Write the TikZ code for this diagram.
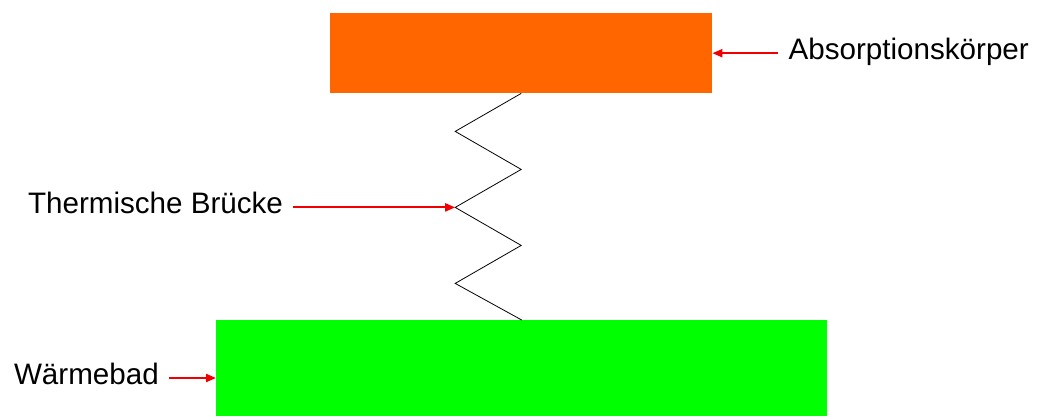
\documentclass[tikz,border=0pt]{standalone}
\usepackage{fontspec}
\setmainfont{Liberation Sans}
\usepackage{xcolor}
\usetikzlibrary{arrows.meta,positioning}
\definecolor{absorberorange}{HTML}{FF6600}
\definecolor{bathgreen}{HTML}{00FF00}
\definecolor{pointerred}{HTML}{F00000}

\begin{document}
\begin{tikzpicture}[x=1pt,y=-1pt,font=\fontsize{29.6}{34}\selectfont,
  block/.style={inner sep=0pt,anchor=north west},
  tag/.style={inner xsep=10pt,inner ysep=0pt,text height=21pt,text depth=8pt},
  pointer/.style={draw=pointerred,line width=2pt,-{Triangle[length=10pt,width=8pt]}}]
  \useasboundingbox (0,0) rectangle (1037,416);
  \node[block,fill=absorberorange,minimum width=382pt,minimum height=80pt] (absorber) at (330,13) {};
  \node[block,fill=bathgreen,minimum width=611pt,minimum height=96pt] (bath) at (216,320) {};
  % zigzag bridge
  \draw[line width=0.8pt] (absorber.south) -- ++(-66,38) -- ++(66,38)
    -- ++(-66,38) coordinate (knee) -- ++(66,38) -- ++(-66,38) -- (bath.north);
  \node[tag,right=66pt of absorber.east] (lblA) {Absorptionskörper};
  \node[tag,left=162pt of knee] (lblT) {Thermische Brücke};
  \node[tag,anchor=east] (lblW) at (169,378) {Wärmebad};
  \draw[pointer] (lblA.west) -- (absorber.east |- lblA.west);
  \draw[pointer] (lblT.east) -- (knee);
  \draw[pointer] (lblW.east) -- (bath.west |- lblW.east);
\end{tikzpicture}
\end{document}
